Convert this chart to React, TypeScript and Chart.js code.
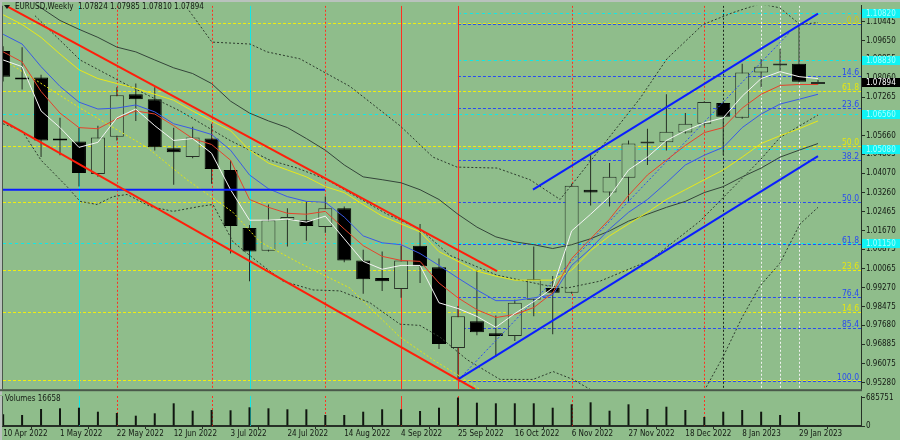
import React, { useEffect, useRef } from "react";
import { Chart, registerables } from "chart.js";

Chart.register(...registerables);

const BG = "#8fbd8b";
const FONT = "'Liberation Sans Narrow', 'DejaVu Sans Condensed', 'Liberation Sans', Arial, sans-serif";
const FS = 8;
const TEXT = "#141a14";
const FRAME = "#263026";

// ---- weekly EURUSD candles: 10 Apr 2022 .. 5 Feb 2023 ----
const opens = [1.0921, 1.0809, 1.0809, 1.0553, 1.0541, 1.0404, 1.0561, 1.0739, 1.0718, 1.0512, 1.0475, 1.0553, 1.0421, 1.0177, 1.0082, 1.0210, 1.0210, 1.0181, 1.0260, 1.0041, 0.9967, 0.9921, 1.0103, 1.0012, 0.9673, 0.9785, 0.9735, 0.9723, 0.9876, 0.9925, 0.9905, 1.0338, 1.0326, 1.0388, 1.0532, 1.0537, 1.0578, 1.0615, 1.0702, 1.0640, 1.0830, 1.0860, 1.0867, 1.07824];
const highs = [1.0941, 1.0937, 1.0821, 1.0640, 1.0598, 1.0607, 1.0768, 1.0784, 1.0768, 1.0598, 1.0603, 1.0615, 1.0462, 1.0190, 1.0276, 1.0260, 1.0289, 1.0309, 1.0268, 1.0086, 1.0078, 1.0103, 1.0194, 1.0049, 0.9850, 1.0000, 0.9810, 0.9876, 1.0099, 0.9976, 1.0363, 1.0483, 1.0450, 1.0545, 1.0594, 1.0739, 1.0660, 1.0710, 1.0710, 1.0867, 1.0888, 1.0929, 1.1032, 1.07985];
const lows = [1.0793, 1.0759, 1.0475, 1.0483, 1.0351, 1.0392, 1.0545, 1.0627, 1.0503, 1.0359, 1.0470, 1.0363, 1.0070, 0.9954, 1.0078, 1.0099, 1.0124, 1.0157, 1.0033, 0.9901, 0.9913, 0.9884, 0.9946, 0.9669, 0.9541, 0.9727, 0.9636, 0.9702, 0.9806, 0.9731, 0.9901, 1.0272, 1.0268, 1.0289, 1.0442, 1.0503, 1.0574, 1.0607, 1.0483, 1.0636, 1.0768, 1.0835, 1.0788, 1.0781];
const closes = [1.0813, 1.0801, 1.0545, 1.0545, 1.0408, 1.0557, 1.0735, 1.0718, 1.0516, 1.0495, 1.0557, 1.0425, 1.0186, 1.0078, 1.0210, 1.0223, 1.0186, 1.0260, 1.0041, 0.9962, 0.9954, 1.0041, 1.0016, 0.9690, 0.9806, 0.9739, 0.9723, 0.9863, 0.9962, 0.9905, 1.0355, 1.0326, 1.0392, 1.0532, 1.0541, 1.0582, 1.0615, 1.0706, 1.0644, 1.0830, 1.0855, 1.0866, 1.0792, 1.07894];
const volumes = [281000, 265000, 409000, 426000, 440000, 344000, 313000, 248000, 305000, 546000, 368000, 385000, 378000, 450000, 426000, 402000, 402000, 265000, 265000, 344000, 402000, 402000, 361000, 440000, 685751, 561000, 546000, 546000, 546000, 440000, 522000, 570000, 368000, 522000, 409000, 464000, 385000, 217000, 344000, 385000, 344000, 265000, 337000, 16658];

// ---- moving averages (one value per week) ----
const maWhite = [1.0883, 1.0855, 1.0669, 1.0599, 1.0516, 1.0537, 1.0640, 1.0677, 1.0607, 1.0545, 1.0553, 1.0491, 1.0338, 1.0210, 1.0210, 1.0214, 1.0202, 1.0227, 1.0132, 1.0037, 1.0004, 1.0020, 1.0020, 0.9863, 0.9839, 0.9806, 0.9760, 0.9818, 0.9868, 0.9925, 1.0165, 1.0235, 1.0309, 1.0421, 1.0475, 1.0545, 1.0586, 1.0619, 1.0640, 1.0731, 1.0805, 1.0834, 1.0813, 1.0805];
const maRed = [1.0917, 1.0875, 1.0751, 1.0660, 1.0599, 1.0594, 1.0636, 1.0669, 1.0656, 1.0607, 1.0553, 1.0528, 1.0462, 1.0297, 1.0264, 1.0239, 1.0235, 1.0247, 1.0173, 1.0103, 1.0058, 1.0041, 1.0037, 0.9946, 0.9884, 0.9834, 0.9801, 0.9814, 0.9843, 0.9905, 1.0049, 1.0132, 1.0214, 1.0314, 1.0400, 1.0462, 1.0524, 1.0578, 1.0599, 1.0681, 1.0739, 1.0776, 1.0780, 1.0780];
const maBlue = [1.0991, 1.0950, 1.0855, 1.0772, 1.0706, 1.0677, 1.0681, 1.0694, 1.0665, 1.0615, 1.0594, 1.0570, 1.0504, 1.0400, 1.0342, 1.0309, 1.0289, 1.0285, 1.0223, 1.0144, 1.0115, 1.0107, 1.0070, 1.0020, 0.9967, 0.9917, 0.9872, 0.9872, 0.9884, 0.9896, 1.0020, 1.0091, 1.0173, 1.0243, 1.0297, 1.0367, 1.0442, 1.0483, 1.0516, 1.0599, 1.0656, 1.0698, 1.0718, 1.0739];
const maYellow = [1.1073, 1.1032, 1.0978, 1.0908, 1.0842, 1.0805, 1.0784, 1.0764, 1.0739, 1.0714, 1.0669, 1.0627, 1.0586, 1.0504, 1.0450, 1.0421, 1.0392, 1.0351, 1.0326, 1.0276, 1.0227, 1.0194, 1.0161, 1.0078, 1.0037, 0.9996, 0.9975, 0.9958, 0.9958, 0.9958, 1.0000, 1.0082, 1.0144, 1.0194, 1.0243, 1.0297, 1.0338, 1.0380, 1.0421, 1.0475, 1.0532, 1.0565, 1.0594, 1.0627];
const maDark = [1.1185, 1.1144, 1.1102, 1.1049, 1.1012, 1.0978, 1.0937, 1.0917, 1.0883, 1.0850, 1.0826, 1.0784, 1.0710, 1.0660, 1.0627, 1.0599, 1.0553, 1.0504, 1.0442, 1.0392, 1.0380, 1.0367, 1.0338, 1.0297, 1.0235, 1.0181, 1.0140, 1.0119, 1.0107, 1.0091, 1.0107, 1.0132, 1.0165, 1.0206, 1.0235, 1.0264, 1.0289, 1.0326, 1.0351, 1.0392, 1.0429, 1.0475, 1.0504, 1.0532];

// ---- dotted bands: [week, price] ----
const bandUpper = [[9.44, 1.1131], [11.02, 1.0958], [13.03, 1.0950], [13.92, 1.0917], [15.66, 1.0888], [18.3, 1.0772], [20.94, 1.0607], [22.68, 1.0475], [23.95, 1.0433], [26.06, 1.0429], [27.8, 1.038], [29.39, 1.0297], [33.61, 1.0722], [35.03, 1.0888], [36.93, 1.1032], [38.51, 1.1082], [39.94, 1.1119], [40.99, 1.1102], [42.05, 1.1032], [43.0, 1.104]];
const bandMiddle = [[1.68, 1.1069], [4.06, 1.0883], [6.69, 1.0772], [9.33, 1.0669], [11.97, 1.0545], [14.08, 1.0462], [15.51, 1.0429], [17.09, 1.038], [20.26, 1.0235], [21.99, 1.0173], [23.58, 1.0062], [26.06, 0.9979], [28.49, 0.9938], [29.75, 0.9925], [31.5, 0.9954], [34.13, 1.0041], [36.77, 1.0206], [39.94, 1.0462], [40.99, 1.0557], [43.0, 1.0652]];
const bandLower = [[-0.01, 1.0615], [0.99, 1.0586], [2.0, 1.0462], [3.37, 1.0351], [4.06, 1.0289], [4.95, 1.0276], [5.8, 1.0309], [6.54, 1.0318], [7.75, 1.0268], [8.96, 1.0247], [10.39, 1.0268], [11.07, 1.0276], [12.13, 1.0119], [13.4, 1.0037], [14.77, 0.9954], [16.35, 0.9917], [17.78, 0.9913], [19.36, 0.9863], [20.94, 0.9773], [21.99, 0.9768], [23.05, 0.9719], [24.48, 0.9624], [26.22, 0.9541], [27.96, 0.9541], [29.02, 0.9574], [30.07, 0.9541], [31.13, 0.9492], [34.13, 0.9265], [37.04, 0.95], [37.99, 0.9636], [38.99, 0.9801], [39.94, 0.9934], [40.99, 1.0029], [42.05, 1.0194], [43.0, 1.0264]];
const envYellow = [[0.36, 1.0867], [4.06, 1.0681], [7.59, 1.0516], [9.7, 1.038], [12.13, 1.0243], [13.55, 1.0119], [15.66, 1.0029], [18.3, 0.9925], [20.94, 0.9719], [22.68, 0.9624], [24.11, 0.9554], [25.69, 0.9471]];

// ---- trend lines: [week, price] ----
const redChannelUpper = [[0.26, 1.1106], [26.06, 0.9996]];
const redChannelLower = [[-0.01, 1.0627], [24.9, 0.95]];
const blueChannelUpper = [[27.96, 1.0338], [43.0, 1.1078]];
const blueChannelLower = [[24.0, 0.9541], [43.0, 1.0479]];
const blueFan = [[24.2, 0.9554], [41.52, 1.1]];
const blueSupport = [[-0.01, 1.0338], [16.98, 1.0338]];

// ---- levels ----
const yellowFibPrices = [0.9537, 0.9824, 1.0001, 1.0288, 1.052, 1.0752, 1.1039];
const yellowFibLabels = ["", "14.6", "23.6", "", "50.0", "61.8", ""];
const blueFibPrices = [1.1033, 1.0814, 1.068, 1.0461, 1.0285, 1.0108, 0.9889, 0.9755, 0.9536];
const blueFibLabels = ["0.0", "14.6", "23.6", "38.2", "50.0", "61.8", "76.4", "85.4", "100.0"];
const blueFibStartWeek = 24;
const cyanFullLevels = [1.0656, 1.0115];
const cyanRightLevels = [1.1082, 1.0883, 1.0508];
const cyanAxisLabels = [1.1082, 1.0883, 1.0656, 1.0508, 1.0115];

// ---- vertical markers (week index) ----
const cyanWeeks = [4, 13];
const redDottedWeeks = [6, 11, 17, 30, 37];
const redSolidWeeks = [21, 24];
const darkDottedWeeks = [38];
const whiteDottedWeeks = [40, 41, 42];

// ---- axis ticks ----
const priceTicks = [1.10445, 1.0965, 1.08855, 1.0806, 1.07265, 1.0647, 1.0566, 1.04865, 1.0407, 1.0326, 1.02465, 1.0167, 1.00875, 1.00065, 0.9927, 0.98475, 0.9768, 0.96885, 0.96075, 0.9528];
const volumeTicks = [0, 685751];
const dateTickWeeks = [0, 3, 6, 9, 12, 15, 18, 21, 24, 27, 30, 33, 36, 39, 42];
const dateTickLabels = ["10 Apr 2022", "1 May 2022", "22 May 2022", "12 Jun 2022", "3 Jul 2022", "24 Jul 2022", "14 Aug 2022", "4 Sep 2022", "25 Sep 2022", "16 Oct 2022", "6 Nov 2022", "27 Nov 2022", "18 Dec 2022", "8 Jan 2023", "29 Jan 2023"];

const X_MIN = -0.008;
const X_MAX = 45.269;
const Y_MIN = 0.95;
const Y_MAX = 1.11106;
const VOL_MAX = 722000;

const crisp = (v: number) => Math.round(v) + 0.5;
const weeks = opens.map((_, i) => i);

function seg(points: number[][], color: string, width: number, dash: number[], order: number) {
  return {
    type: "line",
    data: points.map(([x, y]) => ({ x, y })),
    borderColor: color,
    borderWidth: width,
    borderDash: dash,
    pointRadius: 0,
    tension: 0,
    fill: false,
    clip: 0,
    order,
  };
}
const series = (vals: number[], color: string, order: number) =>
  seg(vals.map((v, i) => [i, v]), color, 1, [], order);

function vline(ctx: any, a: any, xs: any, week: number, color: string, dash: number[]) {
  const xx = crisp(xs.getPixelForValue(week));
  ctx.strokeStyle = color;
  ctx.setLineDash(dash);
  ctx.beginPath();
  ctx.moveTo(xx, a.top);
  ctx.lineTo(xx, a.bottom);
  ctx.stroke();
}

const mainDecor = {
  id: "mainDecor",
  beforeDatasetsDraw(chart: any) {
    const { ctx, chartArea: a, scales } = chart;
    const xs = scales.x;
    const ys = scales.y;
    ctx.save();
    ctx.beginPath();
    ctx.rect(a.left, a.top, a.right - a.left, a.bottom - a.top);
    ctx.clip();
    ctx.lineWidth = 1;
    const hline = (price: number, x0: number, x1: number, color: string, dash: number[]) => {
      const yy = crisp(ys.getPixelForValue(price));
      ctx.strokeStyle = color;
      ctx.setLineDash(dash);
      ctx.beginPath();
      ctx.moveTo(x0, yy);
      ctx.lineTo(x1, yy);
      ctx.stroke();
    };
    const bx = xs.getPixelForValue(blueFibStartWeek);
    cyanFullLevels.forEach((p) => hline(p, a.left, a.right, "#10e8e8", [3, 3]));
    cyanRightLevels.forEach((p) => hline(p, bx, a.right, "#10e8e8", [3, 3]));
    yellowFibPrices.forEach((p) => hline(p, a.left, a.right, "#eeee10", [3, 2]));
    blueFibPrices.forEach((p) => hline(p, bx, a.right, "#2a4cf0", [3, 2]));
    cyanWeeks.forEach((w) => vline(ctx, a, xs, w, "#10e8e8", []));
    redDottedWeeks.forEach((w) => vline(ctx, a, xs, w, "#ff3020", [2, 2]));
    redSolidWeeks.forEach((w) => vline(ctx, a, xs, w, "#ff3020", []));
    darkDottedWeeks.forEach((w) => vline(ctx, a, xs, w, "#1c261c", [2, 2]));
    whiteDottedWeeks.forEach((w) => vline(ctx, a, xs, w, "#f2f2f2", [2, 2]));
    ctx.restore();
  },
  afterDatasetsDraw(chart: any) {
    const { ctx, chartArea: a, scales } = chart;
    const ys = scales.y;
    ctx.save();
    ctx.font = `${FS + 0.5}px ${FONT}`;
    ctx.textAlign = "right";
    ctx.textBaseline = "alphabetic";
    blueFibPrices.forEach((p, k) => {
      ctx.fillStyle = k === 0 ? "#c8c820" : "#2a4cf0";
      ctx.fillText(blueFibLabels[k], a.right - 2, Math.round(ys.getPixelForValue(p)) - 1);
    });
    yellowFibPrices.forEach((p, k) => {
      if (!yellowFibLabels[k]) return;
      ctx.fillStyle = "#e6e610";
      ctx.fillText(yellowFibLabels[k], a.right - 2, Math.round(ys.getPixelForValue(p)) - 1);
    });
    ctx.restore();
  },
  afterDraw(chart: any) {
    const { ctx, chartArea: a, scales } = chart;
    const ys = scales.y;
    ctx.save();
    // frame
    ctx.fillStyle = "#b9c2bd";
    ctx.fillRect(0, 0, chart.width, 2);
    ctx.fillRect(0, 0, 2, chart.height);
    ctx.fillStyle = "#4a584a";
    ctx.fillRect(2, a.top, 1, a.bottom - a.top);
    ctx.fillRect(0, a.bottom, a.right + 1, 2);
    // title
    ctx.fillStyle = TEXT;
    ctx.beginPath();
    ctx.moveTo(4, 5);
    ctx.lineTo(10, 5);
    ctx.lineTo(7, 9);
    ctx.closePath();
    ctx.fill();
    ctx.font = `${FS}px ${FONT}`;
    ctx.textAlign = "left";
    ctx.textBaseline = "middle";
    const last = opens.length - 1;
    ctx.fillText(
      `EURUSD,Weekly  ${opens[last].toFixed(5)} ${highs[last].toFixed(5)} ${lows[last].toFixed(5)} ${closes[last].toFixed(5)}`,
      15,
      7
    );
    // axis price boxes
    cyanAxisLabels.forEach((p) => {
      const yy = Math.round(ys.getPixelForValue(p));
      ctx.fillStyle = "#10f4f4";
      ctx.fillRect(a.right + 1, yy - 4, chart.width - a.right - 1, 9);
      ctx.fillStyle = "#a8ffff";
      ctx.fillText(p.toFixed(5), a.right + 5, yy + 0.5);
    });
    const cy = Math.round(ys.getPixelForValue(closes[last]));
    ctx.fillStyle = "#000000";
    ctx.fillRect(a.right + 1, cy - 4, chart.width - a.right - 1, 9);
    ctx.fillStyle = "#ffffff";
    ctx.fillText(closes[last].toFixed(5), a.right + 5, cy + 0.5);
    ctx.restore();
  },
};

const volDecor = {
  id: "volDecor",
  beforeDatasetsDraw(chart: any) {
    const { ctx, chartArea: a, scales } = chart;
    const xs = scales.x;
    ctx.save();
    ctx.beginPath();
    ctx.rect(a.left, a.top, a.right - a.left, a.bottom - a.top);
    ctx.clip();
    ctx.lineWidth = 1;
    cyanWeeks.forEach((w) => vline(ctx, a, xs, w, "#10e8e8", []));
    redDottedWeeks.forEach((w) => vline(ctx, a, xs, w, "#ff3020", [2, 2]));
    redSolidWeeks.forEach((w) => vline(ctx, a, xs, w, "#ff3020", []));
    ctx.restore();
  },
  afterDraw(chart: any) {
    const { ctx, chartArea: a } = chart;
    ctx.save();
    ctx.fillStyle = "#b9c2bd";
    ctx.fillRect(0, a.top, 2, chart.height - a.top);
    ctx.fillStyle = "#4a584a";
    ctx.fillRect(2, a.top, 1, a.bottom - a.top);
    ctx.fillStyle = TEXT;
    ctx.font = `${FS}px ${FONT}`;
    ctx.textAlign = "left";
    ctx.textBaseline = "middle";
    ctx.fillText(`Volumes ${volumes[volumes.length - 1]}`, 5, a.top + 3);
    ctx.restore();
  },
};

function mainConfig(): any {
  const bull = weeks.map((i) => closes[i] >= opens[i]);
  return {
    type: "bar",
    data: {
      datasets: [
        {
          type: "bar",
          data: weeks.map((i) => ({ x: i, y: [lows[i], highs[i]] })),
          backgroundColor: "#263026",
          barThickness: 1,
          grouped: false,
          inflateAmount: 0,
          order: 20,
        },
        {
          type: "bar",
          data: weeks.map((i) => ({ x: i, y: [opens[i], closes[i]] })),
          backgroundColor: weeks.map((i) => (bull[i] ? BG : "#000000")),
          borderColor: weeks.map((i) => (bull[i] ? "#263026" : "#000000")),
          borderWidth: 1,
          borderSkipped: false,
          barThickness: 14,
          minBarLength: 2,
          grouped: false,
          inflateAmount: 0,
          order: 19,
        },
        seg(bandUpper, "#2e3c2e", 1, [2, 2], 9),
        seg(bandMiddle, "#2e3c2e", 1, [2, 2], 9),
        seg(bandLower, "#2e3c2e", 1, [2, 2], 9),
        seg(envYellow, "#e6e610", 1, [2, 2], 9),
        seg(blueFan, "#2a4cf0", 1, [2, 2], 9),
        series(maDark, "#34443a", 6),
        series(maYellow, "#e8e818", 5),
        series(maBlue, "#3a5ae6", 4),
        series(maRed, "#e5432c", 3),
        series(maWhite, "#f4f4f4", 2),
        seg(redChannelUpper, "#ff1e0a", 2, [], 1),
        seg(redChannelLower, "#ff1e0a", 2, [], 1),
        seg(blueChannelUpper, "#0a1eff", 2, [], 1),
        seg(blueChannelLower, "#0a1eff", 2, [], 1),
        seg(blueSupport, "#0a1eff", 2, [], 1),
      ],
    },
    options: {
      responsive: false,
      animation: false,
      devicePixelRatio: 1,
      events: [],
      layout: { padding: { left: 3, top: 3, right: 0, bottom: 2 } },
      plugins: { legend: { display: false }, tooltip: { enabled: false } },
      scales: {
        x: { type: "linear", min: X_MIN, max: X_MAX, display: false, offset: false },
        y: {
          type: "linear",
          position: "right",
          min: Y_MIN,
          max: Y_MAX,
          beginAtZero: false,
          afterBuildTicks: (s: any) => {
            s.ticks = priceTicks.map((v) => ({ value: v }));
          },
          afterFit: (s: any) => {
            s.width = 39;
          },
          ticks: {
            autoSkip: false,
            padding: 1,
            color: TEXT,
            font: { family: FONT, size: FS },
            callback: (v: any) => Number(v).toFixed(5),
          },
          grid: { drawOnChartArea: false, drawTicks: true, tickLength: 4, color: FRAME },
          border: { display: true, color: FRAME, width: 1 },
        },
      },
    },
    plugins: [mainDecor],
  };
}

function volConfig(): any {
  return {
    type: "bar",
    data: {
      datasets: [
        {
          type: "bar",
          data: weeks.map((i) => ({ x: i, y: volumes[i] })),
          backgroundColor: "#101610",
          barThickness: 2,
          grouped: false,
          inflateAmount: 0,
        },
      ],
    },
    options: {
      responsive: false,
      animation: false,
      devicePixelRatio: 1,
      events: [],
      layout: { padding: { left: 3, top: 11, right: 0, bottom: 0 } },
      plugins: { legend: { display: false }, tooltip: { enabled: false } },
      scales: {
        x: {
          type: "linear",
          position: "bottom",
          min: X_MIN,
          max: X_MAX,
          offset: false,
          afterBuildTicks: (s: any) => {
            s.ticks = dateTickWeeks.map((v) => ({ value: v }));
          },
          afterFit: (s: any) => {
            s.height = 14;
          },
          ticks: {
            autoSkip: false,
            maxRotation: 0,
            minRotation: 0,
            align: "start",
            padding: 0,
            color: TEXT,
            font: { family: FONT, size: FS },
            callback: (_v: any, idx: number) => dateTickLabels[idx] ?? "",
          },
          grid: { drawOnChartArea: false, drawTicks: true, tickLength: 3, color: FRAME },
          border: { display: true, color: FRAME, width: 2 },
        },
        y: {
          type: "linear",
          position: "right",
          min: 0,
          max: VOL_MAX,
          afterBuildTicks: (s: any) => {
            s.ticks = volumeTicks.map((v) => ({ value: v }));
          },
          afterFit: (s: any) => {
            s.width = 39;
          },
          ticks: {
            autoSkip: false,
            padding: 1,
            color: TEXT,
            font: { family: FONT, size: FS },
            callback: (v: any) => String(v),
          },
          grid: { drawOnChartArea: false, drawTicks: true, tickLength: 4, color: FRAME },
          border: { display: true, color: FRAME, width: 1 },
        },
      },
    },
    plugins: [volDecor],
  };
}

export default function App() {
  const mainRef = useRef<HTMLCanvasElement>(null);
  const volRef = useRef<HTMLCanvasElement>(null);
  useEffect(() => {
    const main = new Chart(mainRef.current as HTMLCanvasElement, mainConfig());
    const vol = new Chart(volRef.current as HTMLCanvasElement, volConfig());
    return () => {
      main.destroy();
      vol.destroy();
    };
  }, []);
  return (
    <div style={{ position: "fixed", left: 0, top: 0, width: 900, height: 440, background: BG, overflow: "hidden" }}>
      <canvas ref={mainRef} width={900} height={395} style={{ position: "absolute", left: 0, top: 0, width: 900, height: 395 }} />
      <canvas ref={volRef} width={900} height={55} style={{ position: "absolute", left: 0, top: 385, width: 900, height: 55 }} />
    </div>
  );
}
